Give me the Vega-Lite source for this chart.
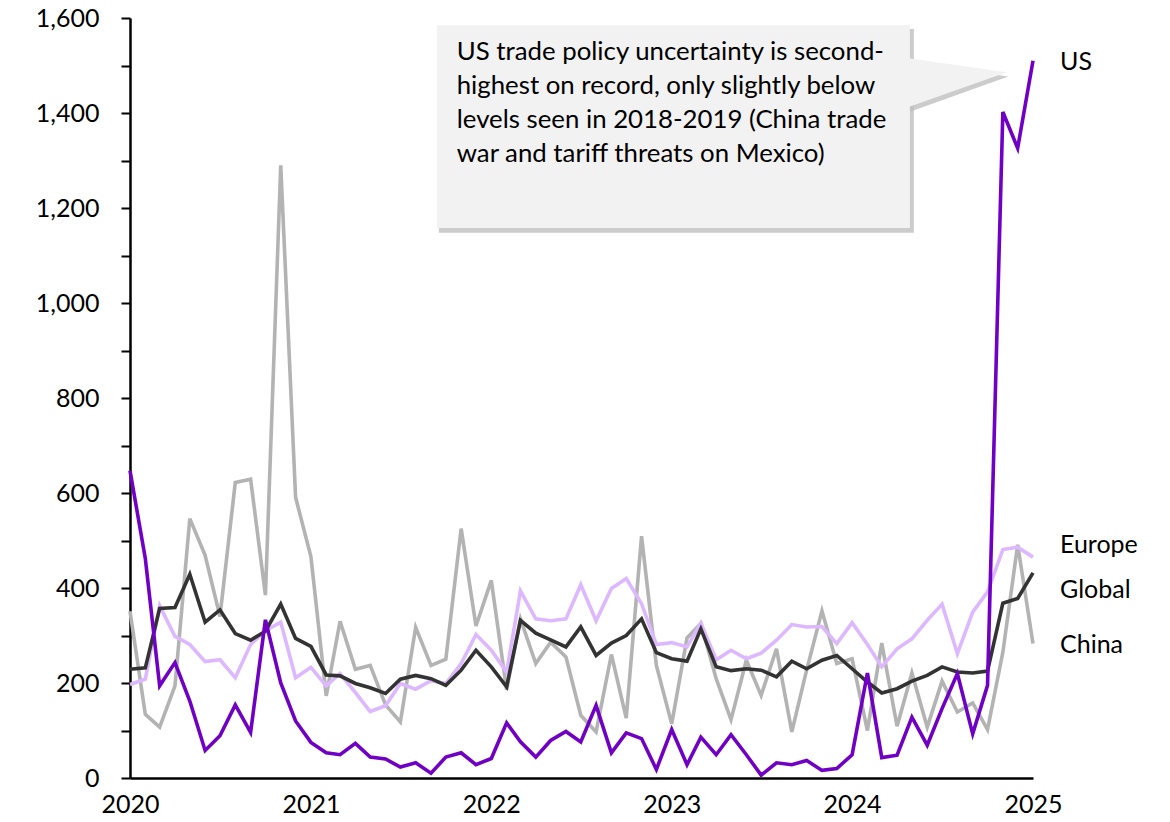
{
  "$schema": "https://vega.github.io/schema/vega-lite/v6.json",
  "width": 903,
  "height": 760,
  "autosize": "none",
  "padding": {"left": 130, "top": 18, "right": 137, "bottom": 44},
  "background": "white",
  "config": {"view": {"stroke": null}, "font": "Lato"},
  "datasets": {
    "series": [
      {"date": "2020-01-01", "US": 647, "Europe": 197, "Global": 229, "China": 351},
      {"date": "2020-02-01", "US": 462, "Europe": 208, "Global": 232, "China": 134},
      {"date": "2020-03-01", "US": 194, "Europe": 363, "Global": 357, "China": 107},
      {"date": "2020-04-01", "US": 243, "Europe": 298, "Global": 359, "China": 194},
      {"date": "2020-05-01", "US": 162, "Europe": 281, "Global": 429, "China": 546},
      {"date": "2020-06-01", "US": 58, "Europe": 245, "Global": 328, "China": 469},
      {"date": "2020-07-01", "US": 89, "Europe": 249, "Global": 354, "China": 340},
      {"date": "2020-08-01", "US": 154, "Europe": 211, "Global": 304, "China": 622},
      {"date": "2020-09-01", "US": 96, "Europe": 281, "Global": 290, "China": 629},
      {"date": "2020-10-01", "US": 333, "Europe": 310, "Global": 309, "China": 385},
      {"date": "2020-11-01", "US": 200, "Europe": 328, "Global": 366, "China": 1290},
      {"date": "2020-12-01", "US": 120, "Europe": 211, "Global": 294, "China": 591},
      {"date": "2021-01-01", "US": 75, "Europe": 233, "Global": 277, "China": 466},
      {"date": "2021-02-01", "US": 53, "Europe": 194, "Global": 217, "China": 173},
      {"date": "2021-03-01", "US": 49, "Europe": 220, "Global": 215, "China": 330},
      {"date": "2021-04-01", "US": 73, "Europe": 180, "Global": 199, "China": 229},
      {"date": "2021-05-01", "US": 44, "Europe": 140, "Global": 190, "China": 237},
      {"date": "2021-06-01", "US": 40, "Europe": 152, "Global": 178, "China": 154},
      {"date": "2021-07-01", "US": 23, "Europe": 199, "Global": 208, "China": 118},
      {"date": "2021-08-01", "US": 32, "Europe": 187, "Global": 216, "China": 317},
      {"date": "2021-09-01", "US": 10, "Europe": 205, "Global": 209, "China": 237},
      {"date": "2021-10-01", "US": 44, "Europe": 199, "Global": 195, "China": 250},
      {"date": "2021-11-01", "US": 53, "Europe": 241, "Global": 227, "China": 525},
      {"date": "2021-12-01", "US": 28, "Europe": 302, "Global": 269, "China": 320},
      {"date": "2022-01-01", "US": 41, "Europe": 269, "Global": 234, "China": 416},
      {"date": "2022-02-01", "US": 116, "Europe": 223, "Global": 192, "China": 186},
      {"date": "2022-03-01", "US": 76, "Europe": 394, "Global": 332, "China": 335},
      {"date": "2022-04-01", "US": 44, "Europe": 335, "Global": 305, "China": 241},
      {"date": "2022-05-01", "US": 79, "Europe": 331, "Global": 291, "China": 286},
      {"date": "2022-06-01", "US": 98, "Europe": 335, "Global": 276, "China": 255},
      {"date": "2022-07-01", "US": 76, "Europe": 407, "Global": 318, "China": 132},
      {"date": "2022-08-01", "US": 153, "Europe": 331, "Global": 258, "China": 97},
      {"date": "2022-09-01", "US": 53, "Europe": 399, "Global": 284, "China": 260},
      {"date": "2022-10-01", "US": 95, "Europe": 420, "Global": 300, "China": 126},
      {"date": "2022-11-01", "US": 83, "Europe": 367, "Global": 335, "China": 509},
      {"date": "2022-12-01", "US": 18, "Europe": 281, "Global": 264, "China": 237},
      {"date": "2023-01-01", "US": 102, "Europe": 285, "Global": 251, "China": 114},
      {"date": "2023-02-01", "US": 28, "Europe": 276, "Global": 246, "China": 295},
      {"date": "2023-03-01", "US": 86, "Europe": 326, "Global": 314, "China": 325},
      {"date": "2023-04-01", "US": 49, "Europe": 249, "Global": 234, "China": 209},
      {"date": "2023-05-01", "US": 91, "Europe": 269, "Global": 226, "China": 123},
      {"date": "2023-06-01", "US": 49, "Europe": 251, "Global": 230, "China": 248},
      {"date": "2023-07-01", "US": 6, "Europe": 263, "Global": 227, "China": 174},
      {"date": "2023-08-01", "US": 32, "Europe": 290, "Global": 213, "China": 272},
      {"date": "2023-09-01", "US": 28, "Europe": 323, "Global": 246, "China": 97},
      {"date": "2023-10-01", "US": 37, "Europe": 318, "Global": 230, "China": 227},
      {"date": "2023-11-01", "US": 16, "Europe": 319, "Global": 248, "China": 352},
      {"date": "2023-12-01", "US": 20, "Europe": 283, "Global": 258, "China": 241},
      {"date": "2024-01-01", "US": 49, "Europe": 327, "Global": 230, "China": 251},
      {"date": "2024-02-01", "US": 221, "Europe": 281, "Global": 202, "China": 100},
      {"date": "2024-03-01", "US": 43, "Europe": 234, "Global": 179, "China": 284},
      {"date": "2024-04-01", "US": 48, "Europe": 272, "Global": 188, "China": 109},
      {"date": "2024-05-01", "US": 128, "Europe": 293, "Global": 204, "China": 221},
      {"date": "2024-06-01", "US": 69, "Europe": 332, "Global": 216, "China": 107},
      {"date": "2024-07-01", "US": 146, "Europe": 366, "Global": 234, "China": 204},
      {"date": "2024-08-01", "US": 220, "Europe": 262, "Global": 223, "China": 139},
      {"date": "2024-09-01", "US": 93, "Europe": 349, "Global": 221, "China": 158},
      {"date": "2024-10-01", "US": 195, "Europe": 392, "Global": 225, "China": 102},
      {"date": "2024-11-01", "US": 1402, "Europe": 481, "Global": 368, "China": 265},
      {"date": "2024-12-01", "US": 1326, "Europe": 486, "Global": 378, "China": 491},
      {"date": "2025-01-01", "US": 1510, "Europe": 465, "Global": 432, "China": 283}
    ],
    "labels": [
      {"date": "2025-01-01", "value": 1507, "label": "US"},
      {"date": "2025-01-01", "value": 490, "label": "Europe"},
      {"date": "2025-01-01", "value": 396, "label": "Global"},
      {"date": "2025-01-01", "value": 280, "label": "China"}
    ]
  },
  "layer": [
    {
      "data": {"values": [{"x": "2021-09-17", "x2": "2024-05-05", "y": 1577, "y2": 1148}]},
      "mark": {"type": "rect", "color": "#BFBFBF", "opacity": 0.8},
      "encoding": {
        "x": {"field": "x", "type": "temporal"},
        "x2": {"field": "x2"},
        "y": {"field": "y", "type": "quantitative"},
        "y2": {"field": "y2"}
      }
    },
    {
      "data": {"values": [
        {"x": "2024-04-20", "y": 1508, "y2": 1400},
        {"x": "2024-11-12", "y": 1477, "y2": 1477}
      ]},
      "mark": {"type": "area", "color": "#BFBFBF", "opacity": 0.8},
      "encoding": {
        "x": {"field": "x", "type": "temporal"},
        "y": {"field": "y", "type": "quantitative"},
        "y2": {"field": "y2"}
      }
    },
    {
      "data": {"values": [{"x": "2021-09-13", "x2": "2024-04-27", "y": 1585, "y2": 1158}]},
      "mark": {"type": "rect", "color": "#F2F2F2"},
      "encoding": {
        "x": {"field": "x", "type": "temporal"},
        "x2": {"field": "x2"},
        "y": {"field": "y", "type": "quantitative"},
        "y2": {"field": "y2"}
      }
    },
    {
      "data": {"values": [
        {"x": "2024-04-20", "y": 1516, "y2": 1411},
        {"x": "2024-11-09", "y": 1486, "y2": 1486}
      ]},
      "mark": {"type": "area", "color": "#F2F2F2"},
      "encoding": {
        "x": {"field": "x", "type": "temporal"},
        "y": {"field": "y", "type": "quantitative"},
        "y2": {"field": "y2"}
      }
    },
    {
      "data": {"values": [{"x": "2021-10-23", "y": 1554, "text": "US trade policy uncertainty is second-\nhighest on record, only slightly below\nlevels seen in 2018-2019 (China trade\nwar and tariff threats on Mexico)"}]},
      "mark": {"type": "text", "align": "left", "baseline": "top", "lineBreak": "\n", "lineHeight": 34, "fontSize": 25.8, "font": "Lato", "color": "#000000"},
      "encoding": {
        "x": {"field": "x", "type": "temporal"},
        "y": {"field": "y", "type": "quantitative"},
        "text": {"field": "text"}
      }
    },
    {
      "data": {"name": "series"},
      "transform": [
        {"fold": ["China", "Europe", "Global", "US"], "as": ["region", "value"]}
      ],
      "mark": {"type": "line", "strokeWidth": 3.6, "strokeJoin": "miter", "interpolate": "linear"},
      "encoding": {
        "x": {
          "field": "date",
          "type": "temporal",
          "scale": {"type": "utc", "domain": [{"year": 2020, "month": 1, "date": 1, "utc": true}, {"year": 2025, "month": 1, "date": 1, "utc": true}]},
          "axis": {
            "title": null,
            "grid": false,
            "ticks": false,
            "domain": true,
            "domainColor": "#000000",
            "domainWidth": 2.5,
            "values": [
              {"year": 2020, "utc": true},
              {"year": 2021, "utc": true},
              {"year": 2022, "utc": true},
              {"year": 2023, "utc": true},
              {"year": 2024, "utc": true},
              {"year": 2025, "utc": true}
            ],
            "format": "%Y",
            "labelFont": "Lato",
            "labelFontSize": 25,
            "labelColor": "#000000",
            "labelPadding": 14,
            "labelFlush": false,
            "labelOverlap": false
          }
        },
        "y": {
          "field": "value",
          "type": "quantitative",
          "scale": {"domain": [0, 1600], "nice": false},
          "axis": {
            "title": null,
            "grid": false,
            "domain": true,
            "domainColor": "#000000",
            "domainWidth": 2.5,
            "ticks": true,
            "tickColor": "#000000",
            "tickWidth": 2,
            "tickSize": 9,
            "values": [0, 100, 200, 300, 400, 500, 600, 700, 800, 900, 1000, 1100, 1200, 1300, 1400, 1500, 1600],
            "labelExpr": "datum.value % 200 == 0 ? format(datum.value, ',') : ''",
            "labelFont": "Lato",
            "labelFontSize": 25,
            "labelColor": "#000000",
            "labelPadding": 22,
            "labelOverlap": false,
            "labelFlush": false
          }
        },
        "color": {
          "field": "region",
          "type": "nominal",
          "scale": {"domain": ["China", "Europe", "Global", "US"], "range": ["#B3B3B3", "#DDB8FF", "#333333", "#7000C4"]},
          "legend": null
        }
      }
    },
    {
      "data": {"name": "labels"},
      "mark": {"type": "text", "align": "left", "baseline": "middle", "dx": 27, "fontSize": 25, "font": "Lato", "color": "#000000"},
      "encoding": {
        "x": {"field": "date", "type": "temporal"},
        "y": {"field": "value", "type": "quantitative"},
        "text": {"field": "label"}
      }
    }
  ]
}
